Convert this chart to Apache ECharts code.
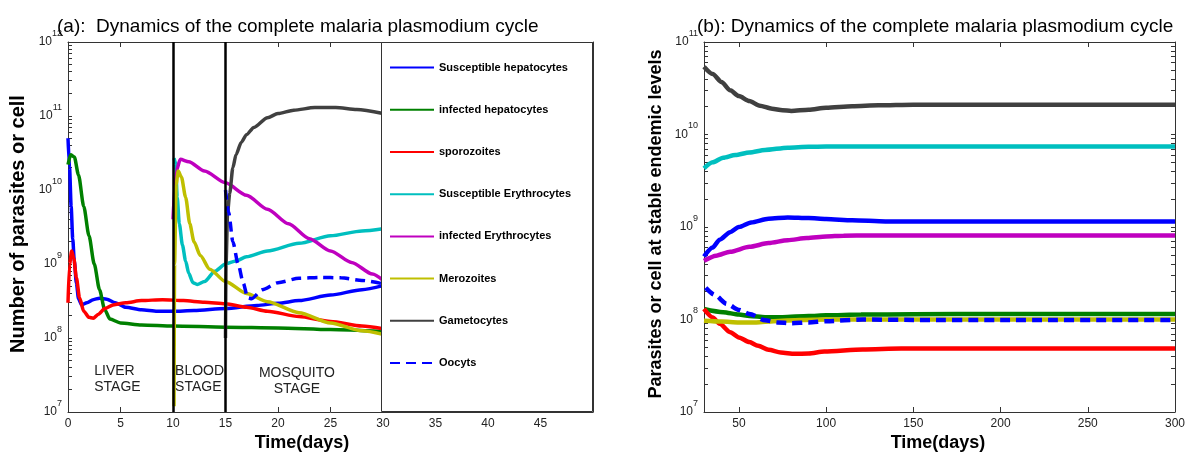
<!DOCTYPE html>
<html>
<head>
<meta charset="utf-8">
<script src="https://cdn.jsdelivr.net/npm/echarts@6/dist/echarts.min.js"></script>
<style>html,body{margin:0;padding:0;background:#fff}#c{width:1188px;height:455px}</style>
</head>
<body>
<div id="c"></div>
<script>
// ---------- data: panel (a), 0-30 days ----------
const susHepA = [[0,5e10],[0.15,2e10],[0.3,6e9],[0.45,2.2e9],[0.6,1.1e9],[0.8,5.5e8],[1.0,3.4e8],[1.3,2.8e8],[1.8,3.0e8],[2.4,3.3e8],[3,3.45e8],[3.7,3.35e8],[4.5,3.0e8],[5.5,2.6e8],[7,2.4e8],[8.5,2.3e8],[10,2.3e8],[12,2.35e8],[15,2.5e8],[18,2.75e8],[20,2.95e8],[22,3.2e8],[25,3.8e8],[28,4.5e8],[30,5.1e8]];
const infHepA = [[0,2.2e10],[0.25,3e10],[0.6,2.8e10],[1,1.6e10],[1.5,6e9],[2,2.4e9],[2.5,1e9],[3,4.5e8],[3.5,2.4e8],[4,1.8e8],[5,1.6e8],[7,1.5e8],[10,1.45e8],[15,1.4e8],[20,1.37e8],[25,1.3e8],[30,1.22e8]];
const sporoA = [[0,3e8],[0.15,1.0e9],[0.35,1.5e9],[0.55,1.2e9],[0.8,6.5e8],[1.1,3.5e8],[1.5,2.3e8],[2,1.9e8],[2.4,1.85e8],[2.9,2.1e8],[3.5,2.5e8],[4.3,2.8e8],[5.5,3.0e8],[7,3.2e8],[9,3.3e8],[11,3.2e8],[13,3.05e8],[15,2.9e8],[17,2.6e8],[19,2.3e8],[22,1.95e8],[25,1.67e8],[28,1.45e8],[30,1.33e8]];
const susEryA = [[10.1,2.7e10],[10.25,2.3e10],[10.4,8e9],[10.6,3.5e9],[10.9,1.8e9],[11.2,1.1e9],[11.5,7.5e8],[11.9,5.6e8],[12.3,5.3e8],[13,5.8e8],[14,8e8],[15,1e9],[16,1.1e9],[17,1.25e9],[19,1.5e9],[22,1.9e9],[25,2.4e9],[28,2.8e9],[30,3e9]];
const infEryA = [[10,4e9],[10.3,1.8e10],[10.7,2.6e10],[11.5,2.4e10],[13,1.8e10],[15,1.25e10],[17,8.5e9],[19,5.5e9],[21,3.5e9],[23,2.2e9],[25,1.5e9],[27,1.05e9],[29,7.3e8],[30,6e8]];
const meroA = [[10.1,1.2e7],[10.15,1e9],[10.3,1.2e10],[10.5,1.8e10],[10.8,1.5e10],[11.2,8e9],[11.6,3.5e9],[12,2e9],[12.6,1.3e9],[13.5,8.5e8],[15,5.8e8],[17,4e8],[19,3.1e8],[22,2.2e8],[25,1.6e8],[28,1.25e8],[30,1.12e8]];
const gametA = [[15,1e8],[15.05,1e9],[15.2,5e9],[15.4,9e9],[15.7,2e10],[16,3e10],[16.5,4.4e10],[17,5.6e10],[17.7,7e10],[19,9.5e10],[20,1.08e11],[21.5,1.2e11],[23.5,1.3e11],[25.5,1.3e11],[27.5,1.22e11],[30,1.08e11]];
const oocA = [[15,1e10],[15.3,5e9],[15.7,2e9],[16.2,1e9],[16.7,5.5e8],[17.1,3.5e8],[17.5,3.4e8],[18.5,4.5e8],[20,5.6e8],[22,6.4e8],[24,6.6e8],[26,6.5e8],[28,6e8],[30,5.4e8]];

// ---------- data: panel (b), 30-300 days ----------
const susHepB = [[30,4.8e8],[35,6e8],[39,7.3e8],[45,8.8e8],[50,1e9],[57,1.12e9],[67,1.23e9],[78,1.27e9],[90,1.25e9],[100,1.22e9],[115,1.18e9],[134,1.15e9],[150,1.15e9],[200,1.15e9],[250,1.15e9],[300,1.15e9]];
const infHepB = [[30,1.3e8],[41,1.2e8],[50,1.13e8],[56,1.09e8],[65,1.06e8],[75,1.06e8],[90,1.09e8],[100,1.11e8],[120,1.13e8],[150,1.14e8],[200,1.15e8],[300,1.15e8]];
const sporoB = [[30,1.3e8],[35,1.05e8],[39,9e7],[45,7.3e7],[50,6.4e7],[56,5.7e7],[61,5.2e7],[67,4.7e7],[74,4.4e7],[82,4.25e7],[90,4.3e7],[99,4.5e7],[121,4.75e7],[143,4.85e7],[200,4.85e7],[300,4.85e7]];
const susEryB = [[30,4.3e9],[35,5e9],[41,5.6e9],[48,6e9],[56,6.4e9],[65,6.8e9],[78,7.2e9],[90,7.35e9],[100,7.4e9],[150,7.4e9],[200,7.4e9],[250,7.4e9],[300,7.4e9]];
const infEryB = [[30,4.3e8],[37,4.9e8],[45,5.4e8],[56,6.1e8],[67,6.7e8],[78,7.2e8],[89,7.6e8],[100,7.9e8],[110,8.05e8],[125,8.1e8],[150,8.1e8],[200,8.1e8],[250,8.1e8],[300,8.1e8]];
const meroB = [[30,9.7e7],[40,9.5e7],[50,9.3e7],[60,9.3e7],[70,9.6e7],[85,9.9e7],[100,1.0e8],[150,1.0e8],[300,1.0e8]];
const gametB = [[30,5.4e10],[35,4.5e10],[40,3.7e10],[45,3e10],[50,2.6e10],[56,2.3e10],[62,2.05e10],[69,1.9e10],[75,1.83e10],[80,1.8e10],[90,1.85e10],[100,1.95e10],[115,2.02e10],[130,2.07e10],[150,2.1e10],[200,2.1e10],[250,2.1e10],[300,2.1e10]];
const oocB = [[31,2.2e8],[36,1.85e8],[43,1.48e8],[50,1.27e8],[56,1.15e8],[65,9.8e7],[72,9.3e7],[80,9.1e7],[90,9.3e7],[100,9.6e7],[121,1e8],[150,9.9e7],[200,9.9e7],[300,9.9e7]];

const seriesNames = ['Susceptible hepatocytes','infected hepatocytes','sporozoites','Susceptible Erythrocytes','infected Erythrocytes','Merozoites','Gametocytes','Oocyts'];
const panelA = [susHepA, infHepA, sporoA, susEryA, infEryA, meroA, gametA, oocA];
const panelB = [susHepB, infHepB, sporoB, susEryB, infEryB, meroB, gametB, oocB];

// ---------- ticks ----------
const xTicksA = [0,5,10,15,20,25,30,35,40,45,50];
const xLabelsA = [0,5,10,15,20,25,30,35,40,45];
const xTicksB = [50,100,150,200,250,300];
const yDecadesA = [1e7,1e8,1e9,1e10,1e11,1e12];
const yDecadesB = [1e7,1e8,1e9,1e10,1e11];
const stageBoundaries = [10, 15];
const stageNotes = [
  {text:'LIVER\nSTAGE', x:2.5, y:2.75e7, align:'left'},
  {text:'BLOOD\nSTAGE', x:10.2, y:2.75e7, align:'left'},
  {text:'MOSQUITO\nSTAGE', x:21.8, y:2.6e7, align:'center'}
];

// ---------- styling ----------
const colors = ['#0000ff','#008000','#ff0000','#00bfbf','#bf00bf','#bfbf00','#404040','#0000ff'];
const FONT = 'Liberation Sans, Arial, Helvetica, sans-serif';
const AX = '#333';

// decade ticks plus 2..9 x 10^n minor ticks
function allLogTicks(decades){
  const out=[];
  for(let i=0;i<decades.length;i++){
    out.push(decades[i]);
    if(i<decades.length-1){for(let k=2;k<=9;k++){out.push(decades[i]*k);}}
  }
  return out;
}
const supRich = {
  b:{fontSize:12, lineHeight:26, color:'#222', fontFamily:FONT},
  s:{fontSize:9, lineHeight:10, verticalAlign:'top', color:'#222', fontFamily:FONT}
};
function supFmt(v){ return '{b|10}{s|' + Math.round(Math.log10(v)) + '}'; }

function xAxesFor(grid, min, max, ticks, labels){
  return [
    {type:'value', gridIndex:grid, min:min, max:max, position:'bottom',
     axisLine:{show:true, onZero:false, lineStyle:{color:AX, width:1}},
     axisTick:{show:true, inside:true, length:5, customValues:ticks, lineStyle:{color:AX}},
     axisLabel:{show:true, customValues:labels, margin:6, fontSize:12, color:'#222', fontFamily:FONT},
     splitLine:{show:false}},
    {type:'value', gridIndex:grid, min:min, max:max, position:'top',
     axisLine:{show:true, onZero:false, lineStyle:{color:AX, width:1}},
     axisTick:{show:true, inside:true, length:5, customValues:ticks, lineStyle:{color:AX}},
     axisLabel:{show:false}, splitLine:{show:false}}
  ];
}
function yAxesFor(grid, decades){
  const min = decades[0], max = decades[decades.length-1];
  const ticks = allLogTicks(decades);
  const base = {type:'log', logBase:10, gridIndex:grid, min:min, max:max, splitLine:{show:false}};
  return [
    Object.assign({}, base, {position:'left',
      axisLine:{show:true, onZero:false, lineStyle:{color:AX}},
      axisTick:{show:true, inside:true, length:4, customValues:ticks, lineStyle:{color:AX}},
      axisLabel:{show:true, customValues:decades, margin:6, formatter:supFmt, rich:supRich}}),
    Object.assign({}, base, {position:'right',
      axisLine:{show:true, onZero:false, lineStyle:{color:AX}},
      axisTick:{show:true, inside:true, length:4, customValues:ticks, lineStyle:{color:AX}},
      axisLabel:{show:false}})
  ];
}

const series = [];
// stage boundary lines and notes (panel a)
series.push({
  name:'stages', type:'line', xAxisIndex:0, yAxisIndex:0, data:[], z:1,
  markLine:{silent:true, symbol:'none', animation:false,
    lineStyle:{color:'#000', width:2.5, type:'solid'}, label:{show:false},
    data: stageBoundaries.map(v=>({xAxis:v}))},
  markPoint:{silent:true, symbol:'circle', symbolSize:0, animation:false,
    data: stageNotes.map(n=>({coord:[n.x,n.y], value:0,
      label:{show:true, formatter:n.text, align:n.align, verticalAlign:'middle', position:'inside',
        fontSize:14, lineHeight:16, color:'#222', fontFamily:FONT}}))}
});
panelA.forEach((d,i)=>{
  series.push({name:seriesNames[i], type:'line', xAxisIndex:0, yAxisIndex:0, data:d,
    symbol:'none', showSymbol:false, smooth:0.25, smoothMonotone:'x', z:3,
    lineStyle:{color:colors[i], width:3.5, type: i===7 ? [10,6] : 'solid'},
    itemStyle:{color:colors[i]}});
});
panelB.forEach((d,i)=>{
  series.push({name:seriesNames[i], type:'line', xAxisIndex:2, yAxisIndex:2, data:d,
    symbol:'none', showSymbol:false, smooth:0.25, smoothMonotone:'x', z:3,
    lineStyle:{color:colors[i], width:4.5, type: i===7 ? [10,6] : 'solid'},
    itemStyle:{color:colors[i]}});
});

const chart = echarts.init(document.getElementById('c'), null, {renderer:'canvas'});
chart.setOption({
  animation:false,
  backgroundColor:'#fff',
  title:[
    {text:'(a):  Dynamics of the complete malaria plasmodium cycle', left:57, top:17, padding:0,
     textStyle:{fontSize:19, fontWeight:'normal', color:'#000', fontFamily:FONT}},
    {text:'(b): Dynamics of the complete malaria plasmodium cycle', left:697, top:17, padding:0,
     textStyle:{fontSize:19, fontWeight:'normal', color:'#000', fontFamily:FONT}}
  ],
  grid:[
    {left:68, top:42, width:525, height:370},
    {left:704, top:42, width:471, height:370}
  ],
  xAxis: xAxesFor(0,0,50,xTicksA,xLabelsA).concat(xAxesFor(1,30,300,xTicksB,xTicksB)),
  yAxis: yAxesFor(0,yDecadesA).concat(yAxesFor(1,yDecadesB)),
  legend:{
    data: seriesNames, orient:'vertical', left:389, top:62, padding:0,
    itemWidth:44, itemHeight:14, itemGap:31, z:10, selectedMode:false,
    itemStyle:{opacity:0, borderWidth:0},
    textStyle:{fontSize:11, fontWeight:'bold', color:'#000', fontFamily:FONT}
  },
  graphic:[
    {type:'rect', z:5, shape:{x:381.5, y:42.5, width:211, height:369},
     style:{fill:'#fff', stroke:'#333', lineWidth:1}},
    {type:'text', x:18, y:224, rotation:Math.PI/2, z:6,
     style:{text:'Number of parasites or cell', font:'bold 20px '+FONT, fill:'#000', textAlign:'center', textVerticalAlign:'middle'}},
    {type:'text', x:656, y:224, rotation:Math.PI/2, z:6,
     style:{text:'Parasites or cell at stable endemic levels', font:'bold 18px '+FONT, fill:'#000', textAlign:'center', textVerticalAlign:'middle'}},
    {type:'text', x:302, y:443, z:6,
     style:{text:'Time(days)', font:'bold 18px '+FONT, fill:'#000', textAlign:'center', textVerticalAlign:'middle'}},
    {type:'text', x:938, y:443, z:6,
     style:{text:'Time(days)', font:'bold 18px '+FONT, fill:'#000', textAlign:'center', textVerticalAlign:'middle'}}
  ],
  series: series
});
</script>
</body>
</html>
